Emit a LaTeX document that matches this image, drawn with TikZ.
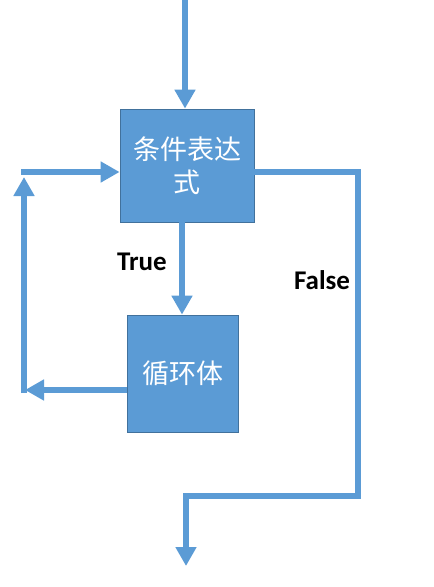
\documentclass[tikz,border=0pt]{standalone}
\usepackage{fontspec}
\setmainfont{Carlito}
\newfontfamily\cjk{Noto Sans CJK SC}
\usetikzlibrary{arrows.meta}
\definecolor{lineblue}{HTML}{5B9BD5}
\definecolor{boxblue}{HTML}{5B9BD5}
\definecolor{boxedge}{HTML}{41719C}
\tikzset{
  arr/.style={draw=lineblue, line width=6.5pt, line join=miter,
    -{Triangle[width=20pt,length=19pt]}},
  pline/.style={draw=lineblue, line width=6.5pt, line join=miter},
  box/.style={rectangle, draw=boxedge, line width=0.8pt, fill=boxblue,
    inner sep=0pt, text=white, align=center,
    font=\cjk\fontsize{27}{33}\selectfont},
  lbl/.style={font=\bfseries\fontsize{27}{30}\selectfont, text=black, inner sep=0pt}
}
\begin{document}
\begin{tikzpicture}[x=1pt,y=-1pt]
\useasboundingbox (0,0) rectangle (434,587);
\node[box, minimum width=134pt, minimum height=113pt] (b1) at (187,165.5) {条件表达\\式};
\node[box, minimum width=111pt, minimum height=117pt] (b2) at (183,373.5) {循环体};
\coordinate (top) at (185,0);
\coordinate (mid) at (182,0);
\coordinate (L1) at (25,390);
\coordinate (L2) at (24,393);
\coordinate (L3) at (24,177);
\coordinate (L4) at (21,172);
\coordinate (R1) at (358,172);
\coordinate (R2) at (358,496);
\coordinate (R3) at (186,496);
\coordinate (R4) at (186,566);
\draw[arr] (top) -- (top |- b1.north);
\draw[arr] (b1.south -| mid) -- (b2.north -| mid);
\draw[arr] (b2.west |- L1) -- (L1);
\draw[arr] (L2) -- (L3);
\draw[arr] (L4) -- (L4 -| b1.west);
\draw[arr] (b1.east |- R1) -- (R1) -- (R2) -- (R3) -- (R4);
\node[lbl] (t) at (142,262) {True};
\node[lbl] (f) at (322,280) {False};
\end{tikzpicture}
\end{document}
